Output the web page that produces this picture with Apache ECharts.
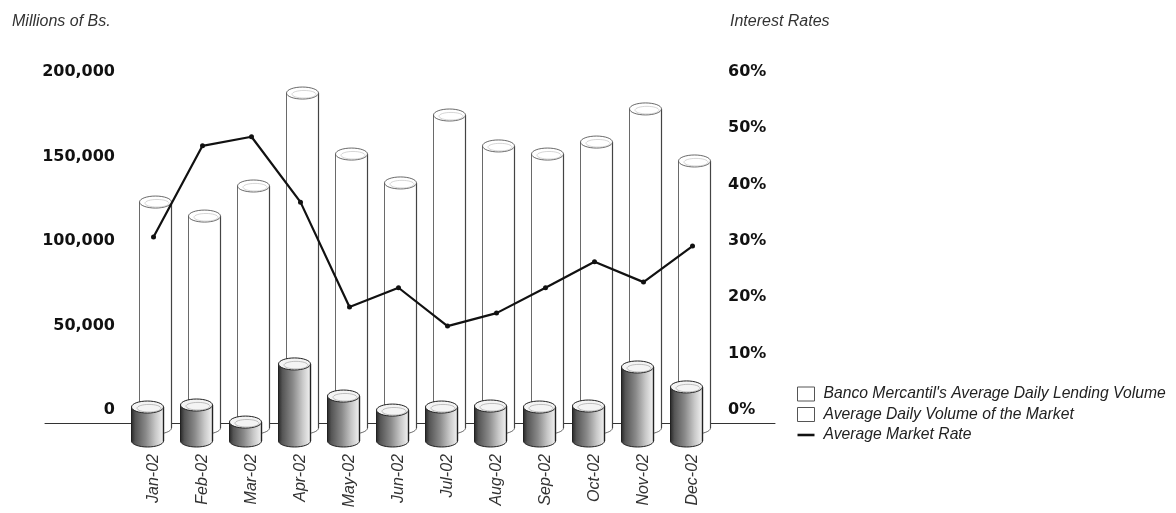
<!DOCTYPE html>
<html><head><meta charset="utf-8">
<script src="https://cdn.jsdelivr.net/npm/echarts@6/dist/echarts.min.js"></script>
<style>html,body{margin:0;padding:0;background:#fff}#c{width:1176px;height:513px}</style>
</head><body><div id="c"></div>
<script>
// ---- data ----
const months = ['Jan-02','Feb-02','Mar-02','Apr-02','May-02','Jun-02','Jul-02','Aug-02','Sep-02','Oct-02','Nov-02','Dec-02'];
const bancoVolume  = [20100, 21300, 11200, 45600, 26600, 18300, 20100, 20700, 20100, 20700, 43800, 32000];
const marketVolume = [133700, 125400, 143200, 198200, 162100, 145000, 185200, 166900, 162100, 169200, 188800, 158000];
const marketRate   = [30.7, 46.9, 48.5, 36.9, 18.3, 21.7, 14.9, 17.2, 21.7, 26.3, 22.7, 29.1];
const leftTickLabels  = ['0', '50,000', '100,000', '150,000', '200,000'];
const rightTickLabels = ['0%', '10%', '20%', '30%', '40%', '50%', '60%'];
const seriesNames = ["Banco Mercantil's Average Daily Lending Volume", 'Average Daily Volume of the Market', 'Average Market Rate'];
const leftTitle = 'Millions of Bs.';
const rightTitle = 'Interest Rates';

const chart = echarts.init(document.getElementById('c'), null, {renderer: 'canvas'});

function cylinderRenderer(o) {
  return function (params, api) {
    const i = api.value(0), v = api.value(1);
    const p0 = api.coord([i, 0]), p1 = api.coord([i, v]);
    const cx = p0[0] + o.dx, yb = p0[1] + o.dy, yt = p1[1] + o.dy;
    const rx = o.rx, ry = o.ry;
    return {
      type: 'group',
      children: [
        {type: 'ellipse', shape: {cx: cx, cy: yb, rx: rx, ry: ry}, style: {fill: o.fill, stroke: o.stroke, lineWidth: o.lw}},
        {type: 'rect', shape: {x: cx - rx, y: yt, width: 2 * rx, height: Math.max(0, yb - yt)}, style: {fill: o.fill, stroke: null}},
        {type: 'line', shape: {x1: cx - rx, y1: yt, x2: cx - rx, y2: yb}, style: {stroke: o.stroke, lineWidth: o.lw}},
        {type: 'line', shape: {x1: cx + rx, y1: yt, x2: cx + rx, y2: yb}, style: {stroke: o.stroke, lineWidth: o.lw + 0.4}},
        {type: 'ellipse', shape: {cx: cx, cy: yt, rx: rx, ry: ry}, style: {fill: o.topFill, stroke: o.stroke, lineWidth: o.lw}},
        {type: 'ellipse', shape: {cx: cx + 1.5, cy: yt + 1.2, rx: rx - 4, ry: ry - 2.2}, style: {fill: 'none', stroke: o.innerStroke, lineWidth: 0.6}}
      ]
    };
  };
}

const frontFill = {type: 'linear', x: 0, y: 0, x2: 1, y2: 0, colorStops: [
  {offset: 0, color: '#2a2a2a'}, {offset: 0.12, color: '#555'}, {offset: 0.45, color: '#8a8a8a'},
  {offset: 0.75, color: '#c8c8c8'}, {offset: 1, color: '#f2f2f2'}]};

const labelFont = {fontFamily: 'DejaVu Sans', fontWeight: 'bold', fontSize: 16, color: '#111'};
const italicFont = {fontFamily: 'Liberation Sans', fontStyle: 'italic', fontWeight: 'normal', fontSize: 16, color: '#333'};

chart.setOption({
  animation: false,
  backgroundColor: '#fff',
  title: [
    {text: leftTitle, left: 7, top: 9, textStyle: italicFont},
    {text: rightTitle, left: 725, top: 9, textStyle: italicFont}
  ],
  legend: {
    orient: 'vertical', left: 792, top: 381, itemWidth: 17, itemHeight: 14, itemGap: 4.5,
    selectedMode: false,
    textStyle: Object.assign({}, italicFont, {fontSize: 15.7, lineHeight: 16, padding: [0, 0, 0, 4], color: '#222'}),
    data: [
      {name: seriesNames[0], icon: 'rect', itemStyle: {color: '#fff', borderColor: '#555', borderWidth: 1}},
      {name: seriesNames[1], icon: 'rect', itemStyle: {color: '#fff', borderColor: '#555', borderWidth: 1}},
      {name: seriesNames[2], icon: 'path://M0,0H20V3H0Z', itemStyle: {color: '#111'}}
    ]
  },
  grid: [
    {left: 129, right: 459, top: 72, bottom: 103},
    {left: 45, right: 401, top: 422, height: 1}
  ],
  xAxis: [
    {gridIndex: 0, type: 'category', data: months, boundaryGap: true,
     axisLine: {show: false}, axisTick: {show: false}, splitLine: {show: false},
     axisLabel: Object.assign({rotate: 90, margin: 44, interval: 0}, italicFont)},
    {gridIndex: 1, type: 'value', min: 0, max: 1,
     axisLine: {show: true, lineStyle: {color: '#333', width: 1}}, axisTick: {show: false}, axisLabel: {show: false}, splitLine: {show: false}}
  ],
  yAxis: [
    {gridIndex: 0, type: 'value', min: 0, max: 200000, interval: 50000, position: 'left',
     axisLine: {show: false}, axisTick: {show: false}, splitLine: {show: false},
     axisLabel: Object.assign({margin: 14, formatter: function (v) { return leftTickLabels[Math.round(v / 50000)]; }}, labelFont)},
    {gridIndex: 0, type: 'value', min: 0, max: 60, interval: 10, position: 'right',
     axisLine: {show: false}, axisTick: {show: false}, splitLine: {show: false},
     axisLabel: Object.assign({margin: 11, formatter: function (v) { return rightTickLabels[Math.round(v / 10)]; }}, labelFont)},
    {gridIndex: 1, type: 'value', show: false}
  ],
  series: [
    {
      name: seriesNames[1], type: 'custom', xAxisIndex: 0, yAxisIndex: 0, z: 2,
      itemStyle: {color: '#fff', borderColor: '#555'},
      renderItem: cylinderRenderer({dx: 2, dy: 18, rx: 16, ry: 6, fill: '#fff', topFill: '#fff', stroke: '#444', innerStroke: '#bbb', lw: 0.8}),
      encode: {x: 0, y: 1},
      data: marketVolume.map(function (v, i) { return [i, v]; })
    },
    {
      name: seriesNames[0], type: 'custom', xAxisIndex: 0, yAxisIndex: 0, z: 3,
      itemStyle: {color: '#fff', borderColor: '#555'},
      renderItem: cylinderRenderer({dx: -6, dy: 31, rx: 16, ry: 6, fill: frontFill, topFill: '#f4f4f4', stroke: '#222', innerStroke: '#999', lw: 1}),
      encode: {x: 0, y: 1},
      data: bancoVolume.map(function (v, i) { return [i, v]; })
    },
    {
      name: seriesNames[2], type: 'line', xAxisIndex: 0, yAxisIndex: 1, z: 5,
      data: marketRate,
      symbol: 'circle', symbolSize: 5,
      lineStyle: {color: '#111', width: 2.2},
      itemStyle: {color: '#111'}
    }
  ]
});
</script>
</body></html>
